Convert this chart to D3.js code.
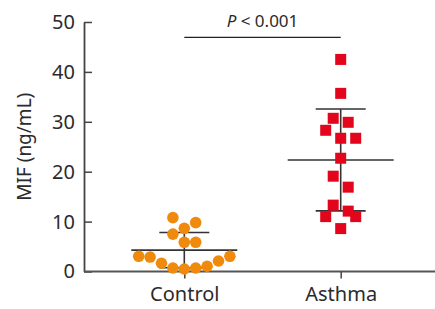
<!DOCTYPE html>
<html>
<head>
<meta charset="utf-8">
<script src="https://cdnjs.cloudflare.com/ajax/libs/d3/7.8.5/d3.min.js"></script>
<style>
    body { margin: 0; background: #fff; }
    svg { display: block; }
    text { font-family: "Noto Sans", sans-serif; fill: #2b2b2b; }
</style>
</head>
<body>
<svg width="435" height="309"></svg>
<script>
// groups shown on the x axis
var categories = ["Control", "Asthma"];

// MIF values (ng/mL)
var controlValues = [0.5, 0.7, 0.7, 1.05, 1.65, 2.1, 2.9, 3.05, 3.05, 5.85, 5.85, 7.5, 8.65, 9.8, 10.8];
var asthmaValues = [8.6, 11.0, 11.0, 12.1, 13.3, 16.9, 19.1, 22.7, 26.7, 26.7, 28.3, 29.9, 30.7, 35.7, 42.5];

// y axis ticks
var yTicks = [0, 10, 20, 30, 40, 50];

var pLabel = "0.001";

(function() {
    var svg = d3.select("svg"),
        margin = { top: 22, right: 0, bottom: 37.5, left: 84 },
        width = +svg.attr("width") - margin.left - margin.right,
        height = +svg.attr("height") - margin.top - margin.bottom;

    var groups = [
        { name: categories[0], values: controlValues, shape: "circle", color: "#ef8a0c", slot: 11.4 },
        { name: categories[1], values: asthmaValues, shape: "square", color: "#e3051b", slot: 15 }
    ];

    var yScale = d3.scaleLinear().domain([0, 50]).range([height + margin.top, margin.top]);
    var xScale = d3.scalePoint().domain(categories).range([184.3, 340.7]);

    // y axis, ticks point inward
    var yAxis = d3.axisLeft(yScale).tickValues(yTicks).tickSizeInner(-8).tickSizeOuter(0).tickPadding(9);
    var yAxisG = svg.append("g")
        .attr("transform", "translate(" + margin.left + ",0)")
        .call(yAxis);
    yAxisG.select(".domain").attr("stroke", "#444").attr("stroke-width", 1.8);
    yAxisG.selectAll(".tick line").attr("stroke", "#444").attr("stroke-width", 1.5);
    yAxisG.selectAll("text").style("font-size", "20px").attr("fill", "#2b2b2b");

    // x axis spans whole width
    var xAxis = d3.axisBottom(xScale).tickSizeInner(7).tickSizeOuter(0).tickPadding(8.5);
    var xAxisG = svg.append("g")
        .attr("transform", "translate(0," + yScale(0) + ")")
        .call(xAxis);
    xAxisG.select(".domain").attr("d", "M" + margin.left + ",0H435").attr("stroke", "#555").attr("stroke-width", 1.8);
    xAxisG.selectAll(".tick line").attr("stroke", "#444").attr("stroke-width", 1.5);
    xAxisG.selectAll("text").style("font-size", "20px").attr("fill", "#2b2b2b");

    // y axis title
    svg.append("text")
        .attr("transform", "translate(31," + (margin.top + height / 2) + ") rotate(-90)")
        .attr("text-anchor", "middle")
        .style("font-size", "19px")
        .text("MIF (ng/mL)");

    // simple bin layout: close values share a row and spread sideways
    var layout = function(values, slot) {
        var sorted = values.slice().sort(d3.ascending);
        var bins = [], cur = null;
        sorted.forEach(function(v) {
            if (cur && v - cur.start <= 2.8) { cur.items.push(v); }
            else { cur = { start: v, items: [v] }; bins.push(cur); }
        });
        var pts = [];
        bins.forEach(function(b) {
            var n = b.items.length;
            b.items.forEach(function(v, i) {
                var k;
                if (n % 2 == 1) {
                    k = i == 0 ? 0 : (i % 2 == 1 ? 1 : -1) * Math.ceil(i / 2);
                } else {
                    k = (i % 2 == 0 ? 1 : -1) * (Math.floor(i / 2) + 0.5);
                }
                pts.push({ v: v, dx: k * slot });
            });
        });
        return pts;
    };

    groups.forEach(function(gr) {
        var cx = xScale(gr.name);
        var mean = d3.mean(gr.values), sd = d3.deviation(gr.values);
        var g = svg.append("g");

        // error bar: mean line, +/- SD caps and the vertical line
        g.append("line")
            .attr("x1", cx).attr("x2", cx)
            .attr("y1", yScale(mean + sd)).attr("y2", yScale(Math.max(mean - sd, 0)))
            .attr("stroke", "#333").attr("stroke-width", 1.6);
        g.append("line")
            .attr("x1", cx - 53).attr("x2", cx + 53)
            .attr("y1", yScale(mean)).attr("y2", yScale(mean))
            .attr("stroke", "#333").attr("stroke-width", 1.6);
        [mean + sd, mean - sd].forEach(function(v) {
            g.append("line")
                .attr("x1", cx - 25).attr("x2", cx + 25)
                .attr("y1", yScale(v)).attr("y2", yScale(v))
                .attr("stroke", "#333").attr("stroke-width", 1.6);
        });

        var pts = layout(gr.values, gr.slot);
        if (gr.shape == "circle") {
            g.selectAll("circle").data(pts).enter().append("circle")
                .attr("cx", function(d) { return cx + d.dx; })
                .attr("cy", function(d) { return yScale(d.v); })
                .attr("r", 5.8)
                .attr("fill", gr.color);
        } else {
            g.selectAll("rect").data(pts).enter().append("rect")
                .attr("x", function(d) { return cx + d.dx - 5.5; })
                .attr("y", function(d) { return yScale(d.v) - 5.5; })
                .attr("width", 11).attr("height", 11)
                .attr("fill", gr.color);
        }
    });

    // significance bar
    svg.append("line")
        .attr("x1", xScale(categories[0])).attr("x2", xScale(categories[1]))
        .attr("y1", 37.3).attr("y2", 37.3)
        .attr("stroke", "#222").attr("stroke-width", 1.3);
    var pt = svg.append("text")
        .attr("x", (xScale(categories[0]) + xScale(categories[1])) / 2)
        .attr("y", 26.5)
        .attr("text-anchor", "middle")
        .style("font-size", "17px");
    pt.append("tspan").style("font-style", "italic").text("P");
    pt.append("tspan").text(" < " + pLabel);
})();
</script>
</body>
</html>
